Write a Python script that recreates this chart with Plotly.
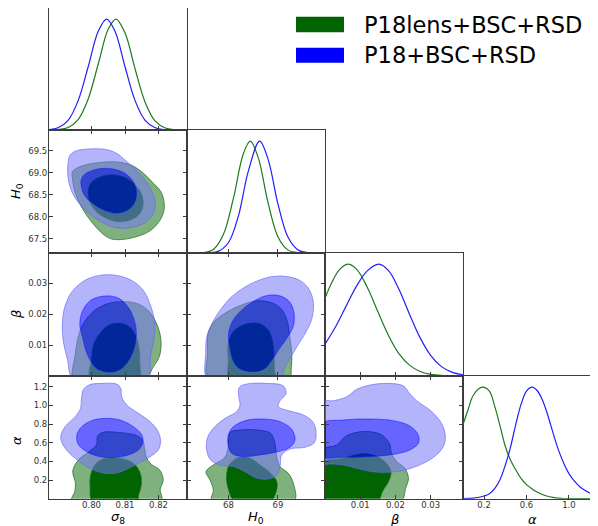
import plotly.graph_objects as go

# page window is 598x526; the plot div sits 8px in from the page's top-left corner
PAGE_W, PAGE_H = 598, 526
OFF = 8
W, H = PAGE_W - OFF, PAGE_H - OFF

# ---------------- labels / ticks ----------------
SERIES_NAMES = ["P18lens+BSC+RSD", "P18+BSC+RSD"]
PARAM_TITLES = ["<i>σ</i><sub>8</sub>", "<i>H</i><sub>0</sub>", "<i>β</i>", "<i>α</i>"]
X_TICKVALS = [[0.80, 0.81, 0.82], [68, 69], [0.01, 0.02, 0.03], [0.2, 0.6, 1.0]]
X_TICKTEXT = [["0.80", "0.81", "0.82"], ["68", "69"], ["0.01", "0.02", "0.03"], ["0.2", "0.6", "1.0"]]
Y_TICKVALS = [None, [67.5, 68.0, 68.5, 69.0, 69.5], [0.01, 0.02, 0.03], [0.2, 0.4, 0.6, 0.8, 1.0, 1.2]]
Y_TICKTEXT = [None, ["67.5", "68.0", "68.5", "69.0", "69.5"], ["0.01", "0.02", "0.03"],
              ["0.2", "0.4", "0.6", "0.8", "1.0", "1.2"]]
X_RANGES = [[0.7873, 0.8285], [67.16, 69.953], [0.0, 0.0392], [0.0015, 1.274]]
Y_RANGES = [None, [67.175, 69.97], [0.0, 0.0397], [0.0, 1.315]]

# ---------------- 1D marginals (relative density, peak = 1) ----------------
S8_GREEN_X = [0.7873, 0.790, 0.793, 0.796, 0.799, 0.802, 0.805, 0.8073, 0.810, 0.813, 0.816, 0.819, 0.822, 0.825, 0.8285]
S8_GREEN_P = [0.0005, 0.004, 0.023, 0.094, 0.28, 0.595, 0.91, 1.0, 0.874, 0.55, 0.25, 0.08, 0.018, 0.003, 0.0]
S8_BLUE_X = [0.7873, 0.790, 0.793, 0.796, 0.799, 0.802, 0.8045, 0.807, 0.810, 0.813, 0.816, 0.819, 0.822, 0.8285]
S8_BLUE_P = [0.004, 0.02, 0.087, 0.265, 0.57, 0.89, 1.0, 0.89, 0.57, 0.265, 0.087, 0.02, 0.003, 0.0]

H0_GREEN_X = [67.16, 67.5, 67.7, 67.9, 68.1, 68.3, 68.44, 68.6, 68.8, 69.0, 69.2, 69.4, 69.6, 69.95]
H0_GREEN_P = [0.0, 0.004, 0.034, 0.17, 0.49, 0.887, 1.0, 0.855, 0.45, 0.146, 0.028, 0.003, 0.0, 0.0]
H0_BLUE_X = [67.16, 67.6, 67.8, 68.0, 68.2, 68.4, 68.63, 68.8, 69.0, 69.2, 69.4, 69.6, 69.95]
H0_BLUE_P = [0.0, 0.002, 0.017, 0.094, 0.33, 0.73, 1.0, 0.84, 0.44, 0.145, 0.03, 0.004, 0.0]

BETA_GREEN_X = [0.0, 0.002, 0.004, 0.0065, 0.009, 0.012, 0.015, 0.018, 0.021, 0.024, 0.027, 0.030, 0.033, 0.036, 0.0392]
BETA_GREEN_P = [0.695, 0.84, 0.947, 1.0, 0.953, 0.794, 0.576, 0.365, 0.20, 0.097, 0.04, 0.015, 0.005, 0.002, 0.0]
BETA_BLUE_X = [0.0, 0.003, 0.006, 0.009, 0.012, 0.0153, 0.018, 0.021, 0.024, 0.027, 0.030, 0.033, 0.036, 0.0392]
BETA_BLUE_P = [0.284, 0.44, 0.625, 0.806, 0.94, 1.0, 0.944, 0.776, 0.553, 0.343, 0.185, 0.086, 0.035, 0.011]

ALPHA_GREEN_X = [0.0, 0.05, 0.1, 0.181, 0.25, 0.3, 0.35, 0.4, 0.45, 0.5, 0.55, 0.6, 0.65, 0.7, 0.75, 0.8, 0.85, 0.9,
                 0.95, 1.0, 1.1, 1.274]
ALPHA_GREEN_P = [0.66, 0.80, 0.93, 1.0, 0.965, 0.83, 0.655, 0.47, 0.345, 0.257, 0.18, 0.126, 0.09, 0.06, 0.038, 0.022,
                 0.012, 0.005, 0.001, 0.0, 0.0, 0.0]
ALPHA_BLUE_X = [0.0, 0.1, 0.2, 0.25, 0.3, 0.35, 0.4, 0.45, 0.5, 0.55, 0.6, 0.654, 0.7, 0.75, 0.8, 0.85, 0.9, 0.95,
                1.0, 1.05, 1.1, 1.15, 1.2, 1.274]
ALPHA_BLUE_P = [0.0, 0.005, 0.024, 0.045, 0.09, 0.17, 0.30, 0.465, 0.67, 0.85, 0.965, 1.0, 0.97, 0.885, 0.75, 0.59,
                0.44, 0.32, 0.225, 0.16, 0.11, 0.075, 0.05, 0.024]

# ---------------- 2D contours (68% inner / 95% outer), (x, y) in data units ----------------
# sigma8 - H0
S8H0_GREEN_OUT = [(0.7943, 69.023), (0.7971, 69.152), (0.8020, 69.228), (0.8075, 69.243), (0.8120, 69.167),
                  (0.8155, 68.985), (0.8185, 68.758), (0.8207, 68.569), (0.8217, 68.304), (0.8214, 68.077),
                  (0.8199, 67.86), (0.8175, 67.68), (0.8140, 67.56), (0.8095, 67.485), (0.8060, 67.493),
                  (0.8035, 67.599), (0.8008, 67.811), (0.7983, 68.061), (0.7963, 68.319), (0.7949, 68.607),
                  (0.7943, 68.872)]
S8H0_GREEN_IN = [(0.7991, 68.607), (0.8002, 68.796), (0.8030, 68.910), (0.8065, 68.948), (0.8100, 68.887),
                 (0.8130, 68.720), (0.8150, 68.493), (0.8153, 68.228), (0.8140, 68.038), (0.8115, 67.925),
                 (0.8080, 67.887), (0.8045, 67.963), (0.8015, 68.114), (0.7995, 68.342)]
S8H0_BLUE_OUT = [(0.7936, 69.402), (0.7956, 69.501), (0.7991, 69.538), (0.8040, 69.531), (0.8075, 69.440),
                 (0.8102, 69.273), (0.8128, 69.099), (0.8155, 68.872), (0.8178, 68.607), (0.8190, 68.342),
                 (0.8187, 68.114), (0.8170, 67.925), (0.8140, 67.796), (0.8100, 67.736), (0.8060, 67.773),
                 (0.8020, 67.925), (0.7986, 68.114), (0.7959, 68.342), (0.7941, 68.569), (0.7931, 68.834),
                 (0.7929, 69.137)]
S8H0_BLUE_IN = [(0.7968, 68.796), (0.7977, 68.948), (0.8000, 69.046), (0.8035, 69.099), (0.8070, 69.076),
                (0.8100, 68.985), (0.8125, 68.796), (0.8135, 68.569), (0.8130, 68.342), (0.8112, 68.167),
                (0.8080, 68.077), (0.8040, 68.137), (0.8005, 68.288), (0.7978, 68.493)]

# sigma8 - beta
S8B_GREEN_OUT = [(0.7948, -0.0015), (0.7951, 0.0065), (0.7961, 0.0129), (0.7977, 0.0172), (0.8007, 0.0210),
                 (0.8047, 0.0233), (0.8092, 0.0240), (0.8132, 0.0235), (0.8166, 0.0215), (0.8193, 0.0172),
                 (0.8207, 0.0118), (0.8203, 0.0065), (0.8183, 0.0027), (0.8157, -0.0015)]
S8B_GREEN_IN = [(0.7998, -0.0015), (0.8000, 0.0054), (0.8007, 0.0102), (0.8027, 0.0140), (0.8052, 0.0164),
                (0.8082, 0.0170), (0.8112, 0.0159), (0.8132, 0.0129), (0.8142, 0.0086), (0.8144, 0.0043),
                (0.8140, -0.0015)]
S8B_BLUE_OUT = [(0.7948, -0.0015), (0.7928, 0.0054), (0.7915, 0.0118), (0.7913, 0.0172), (0.7921, 0.0226),
                (0.7943, 0.0274), (0.7982, 0.0310), (0.8032, 0.0326), (0.8072, 0.0325), (0.8117, 0.0310),
                (0.8152, 0.0280), (0.8173, 0.0237), (0.8189, 0.0172), (0.8186, 0.0118), (0.8176, 0.0065),
                (0.8164, -0.0015)]
S8B_BLUE_IN = [(0.7973, 0.0124), (0.7965, 0.0167), (0.7973, 0.0210), (0.7997, 0.0244), (0.8037, 0.0258),
               (0.8077, 0.0253), (0.8107, 0.0226), (0.8127, 0.0183), (0.8134, 0.0135), (0.8127, 0.0086),
               (0.8107, 0.0043), (0.8077, 0.0016), (0.8042, 0.0013), (0.8012, 0.0027), (0.7987, 0.0070)]

# H0 - beta
H0B_GREEN_OUT = [(67.605, -0.0015), (67.578, 0.0075), (67.592, 0.0140), (67.727, 0.0178), (67.976, 0.0207),
                 (68.246, 0.0228), (68.550, 0.0242), (68.820, 0.0239), (69.043, 0.0221), (69.178, 0.0183),
                 (69.238, 0.0129), (69.279, 0.0075), (69.272, 0.0027), (69.211, -0.0015)]
H0B_GREEN_IN = [(68.044, -0.0015), (67.997, 0.0054), (67.997, 0.0108), (68.111, 0.0145), (68.348, 0.0167),
                (68.618, 0.0169), (68.806, 0.0148), (68.887, 0.0113), (68.921, 0.0065), (68.928, 0.0022),
                (68.928, -0.0015)]
H0B_BLUE_OUT = [(67.592, -0.0015), (67.538, 0.0075), (67.565, 0.0129), (67.673, 0.0172), (67.842, 0.0215),
                (68.044, 0.0253), (68.280, 0.0282), (68.584, 0.0307), (68.887, 0.0321), (69.191, 0.0321),
                (69.461, 0.0307), (69.630, 0.0280), (69.717, 0.0237), (69.684, 0.0183), (69.562, 0.0140),
                (69.393, 0.0097), (69.238, 0.0054), (69.124, 0.0022), (69.056, -0.0015)]
H0B_BLUE_IN = [(68.044, 0.0075), (67.997, 0.0129), (68.064, 0.0172), (68.246, 0.0210), (68.516, 0.0242),
               (68.786, 0.0260), (69.056, 0.0258), (69.238, 0.0239), (69.326, 0.0204), (69.313, 0.0161),
               (69.191, 0.0124), (69.022, 0.0086), (68.874, 0.0049), (68.719, 0.0022), (68.483, 0.0013),
               (68.213, 0.0024), (68.091, 0.0049)]

# sigma8 - alpha
S8A_GREEN_OUT = [(0.7941, -0.03), (0.7950, 0.08), (0.7952, 0.165), (0.7944, 0.30), (0.7962, 0.42), (0.7995, 0.51),
                 (0.8015, 0.58), (0.8018, 0.67), (0.8035, 0.712), (0.8085, 0.708), (0.8132, 0.68), (0.8152, 0.63),
                 (0.8158, 0.55), (0.8163, 0.45), (0.8178, 0.37), (0.8203, 0.31), (0.8214, 0.20), (0.8205, 0.10),
                 (0.8208, -0.03)]
S8A_GREEN_IN = [(0.8004, -0.03), (0.7996, 0.129), (0.7998, 0.254), (0.8014, 0.379), (0.8045, 0.436),
                (0.8090, 0.429), (0.8125, 0.379), (0.8145, 0.272), (0.8148, 0.147), (0.8140, 0.040),
                (0.8135, -0.03)]
S8A_BLUE_OUT = [(0.7976, 1.172), (0.7995, 1.222), (0.8035, 1.236), (0.8075, 1.229), (0.8087, 1.183),
                (0.8090, 1.093), (0.8105, 1.004), (0.8140, 0.915), (0.8175, 0.825), (0.8199, 0.718),
                (0.8206, 0.611), (0.8199, 0.522), (0.8175, 0.450), (0.8140, 0.379), (0.8105, 0.315),
                (0.8070, 0.272), (0.8030, 0.279), (0.7990, 0.336), (0.7951, 0.433), (0.7918, 0.558),
                (0.7908, 0.665), (0.7921, 0.772), (0.7951, 0.879), (0.7967, 0.968), (0.7970, 1.075)]
S8A_BLUE_IN = [(0.7956, 0.683), (0.7971, 0.772), (0.8000, 0.836), (0.8040, 0.861), (0.8085, 0.843),
               (0.8125, 0.772), (0.8150, 0.683), (0.8153, 0.593), (0.8140, 0.522), (0.8110, 0.468),
               (0.8070, 0.443), (0.8025, 0.450), (0.7985, 0.504), (0.7960, 0.586)]

# H0 - alpha
H0A_GREEN_OUT = [(67.659, -0.03), (67.693, 0.094), (67.625, 0.201), (67.544, 0.290), (67.693, 0.361),
                 (67.929, 0.444), (67.996, 0.558), (68.030, 0.708), (68.233, 0.736), (68.637, 0.733),
                 (68.853, 0.701), (68.941, 0.594), (68.975, 0.451), (69.042, 0.344), (69.211, 0.272),
                 (69.312, 0.165), (69.326, -0.03)]
H0A_GREEN_IN = [(68.131, -0.03), (67.996, 0.111), (67.963, 0.236), (68.017, 0.361), (68.199, 0.440),
                (68.435, 0.433), (68.637, 0.361), (68.840, 0.279), (68.975, 0.183), (68.961, 0.076),
                (68.840, -0.03)]
H0A_BLUE_OUT = [(68.219, 1.194), (68.368, 1.229), (68.772, 1.236), (69.110, 1.208), (69.164, 1.129),
                (69.029, 1.040), (69.009, 0.986), (69.211, 0.944), (69.515, 0.897), (69.704, 0.826),
                (69.771, 0.719), (69.737, 0.601), (69.548, 0.551), (69.245, 0.533), (69.076, 0.469),
                (69.042, 0.344), (68.961, 0.244), (68.739, 0.208), (68.536, 0.229), (68.334, 0.290),
                (68.098, 0.344), (67.828, 0.361), (67.639, 0.415), (67.558, 0.522), (67.571, 0.647),
                (67.693, 0.754), (67.929, 0.861), (68.165, 0.933), (68.233, 1.004), (68.206, 1.094)]
H0A_BLUE_IN = [(67.983, 0.629), (68.064, 0.754), (68.334, 0.836), (68.705, 0.854), (69.042, 0.826),
               (69.279, 0.744), (69.346, 0.629), (69.245, 0.551), (68.975, 0.501), (68.637, 0.469),
               (68.300, 0.451), (68.064, 0.486)]

# beta - alpha
BA_GREEN_OUT = [(-0.0015, 0.515), (0.0033, 0.575), (0.0057, 0.665), (0.0090, 0.711), (0.0128, 0.718),
                (0.0161, 0.683), (0.0183, 0.593), (0.0189, 0.486), (0.0204, 0.397), (0.0227, 0.325),
                (0.0237, 0.218), (0.0229, 0.111), (0.0215, -0.03), (-0.002, -0.03)]
BA_GREEN_IN = [(-0.0015, 0.372), (0.0052, 0.433), (0.0099, 0.479), (0.0137, 0.468), (0.0170, 0.397),
               (0.0187, 0.290), (0.0180, 0.183), (0.0164, 0.086), (0.0147, -0.03), (-0.002, -0.03)]
BA_BLUE_OUT = [(-0.0015, 1.040), (0.0024, 1.050), (0.0062, 1.093), (0.0090, 1.172), (0.0128, 1.218),
               (0.0180, 1.236), (0.0223, 1.208), (0.0240, 1.129), (0.0260, 1.050), (0.0298, 0.950),
               (0.0331, 0.808), (0.0342, 0.665), (0.0336, 0.558), (0.0313, 0.458), (0.0275, 0.372),
               (0.0227, 0.308), (0.0180, 0.283), (0.0133, 0.290), (0.0090, 0.325), (0.0052, 0.361),
               (0.0014, 0.372), (-0.0015, 0.372)]
BA_BLUE_IN = [(-0.0015, 0.800), (0.0052, 0.843), (0.0128, 0.854), (0.0194, 0.836), (0.0241, 0.779),
              (0.0265, 0.683), (0.0265, 0.593), (0.0241, 0.522), (0.0194, 0.475), (0.0128, 0.450),
              (0.0052, 0.443), (-0.0015, 0.458)]

# ---------------- styling ----------------
GREEN_LINE = "rgb(30,120,30)"
BLUE_LINE = "rgb(30,30,255)"
GREEN_OUT_FILL = "rgba(0,100,0,0.5)"
GREEN_IN_FILL = "rgb(0,100,0)"
BLUE_OUT_FILL = "rgba(118,118,245,0.55)"
BLUE_IN_FILL = "rgba(0,0,255,0.6)"
GREEN_EDGE = "rgb(45,115,45)"
BLUE_EDGE = "rgba(100,100,250,0.8)"

# panel edges in page pixels
COL_PX = [(49, 187), (187, 325), (325, 463), (463, 598)]
ROW_PX = [(7.3, 130), (130, 253), (253, 376), (376, 498.7)]


def fx(p):
    return (p - OFF) / W


def fy(p):
    return 1 - (p - OFF) / H


DIAG = {
    0: [(S8_GREEN_X, S8_GREEN_P, GREEN_LINE), (S8_BLUE_X, S8_BLUE_P, BLUE_LINE)],
    1: [(H0_GREEN_X, H0_GREEN_P, GREEN_LINE), (H0_BLUE_X, H0_BLUE_P, BLUE_LINE)],
    2: [(BETA_GREEN_X, BETA_GREEN_P, GREEN_LINE), (BETA_BLUE_X, BETA_BLUE_P, BLUE_LINE)],
    3: [(ALPHA_GREEN_X, ALPHA_GREEN_P, GREEN_LINE), (ALPHA_BLUE_X, ALPHA_BLUE_P, BLUE_LINE)],
}
CONTOURS = {
    (1, 0): (S8H0_GREEN_OUT, S8H0_GREEN_IN, S8H0_BLUE_OUT, S8H0_BLUE_IN),
    (2, 0): (S8B_GREEN_OUT, S8B_GREEN_IN, S8B_BLUE_OUT, S8B_BLUE_IN),
    (2, 1): (H0B_GREEN_OUT, H0B_GREEN_IN, H0B_BLUE_OUT, H0B_BLUE_IN),
    (3, 0): (S8A_GREEN_OUT, S8A_GREEN_IN, S8A_BLUE_OUT, S8A_BLUE_IN),
    (3, 1): (H0A_GREEN_OUT, H0A_GREEN_IN, H0A_BLUE_OUT, H0A_BLUE_IN),
    (3, 2): (BA_GREEN_OUT, BA_GREEN_IN, BA_BLUE_OUT, BA_BLUE_IN),
}


def signed_area(pts):
    s = 0.0
    for (x1, y1), (x2, y2) in zip(pts, pts[1:] + pts[:1]):
        s += x1 * y2 - x2 * y1
    return s


def closed(pts):
    return list(pts) + [pts[0]]


def ring_xy(outer, inner):
    inn = list(inner)
    if (signed_area(outer) > 0) == (signed_area(inn) > 0):
        inn = inn[::-1]
    o = closed(outer)
    i = closed(inn)
    xs = [p[0] for p in o] + [None] + [p[0] for p in i]
    ys = [p[1] for p in o] + [None] + [p[1] for p in i]
    return xs, ys


fig = go.Figure()
layout = dict(width=W, height=H, margin=dict(l=0, r=0, t=0, b=0), paper_bgcolor="white",
              plot_bgcolor="white", showlegend=False)

FRAME = "#3c3c3c"
TICKFONT = dict(family="DejaVu Sans", size=8.5, color="#333333")

k = 0
for r in range(4):
    for c in range(r + 1):
        k += 1
        xa = "xaxis" if k == 1 else f"xaxis{k}"
        ya = "yaxis" if k == 1 else f"yaxis{k}"
        xr = "x" if k == 1 else f"x{k}"
        yr = "y" if k == 1 else f"y{k}"
        diag = (r == c)
        xdom = [max(fx(COL_PX[c][0]), 0.0), min(fx(COL_PX[c][1]), 1.0)]
        ydom = [max(fy(ROW_PX[r][1]), 0.0), min(fy(ROW_PX[r][0]), 1.0)]
        layout[xa] = dict(domain=xdom, range=X_RANGES[c], anchor=yr, showgrid=False, zeroline=False,
                          showline=True, linecolor=FRAME, linewidth=1.2,
                          mirror=True if diag else "ticks", ticks="inside", ticklen=4, tickwidth=1,
                          tickcolor=FRAME, tickvals=X_TICKVALS[c], ticktext=X_TICKTEXT[c],
                          showticklabels=(r == 3), tickfont=TICKFONT, ticklabelstandoff=-2)
        if diag:
            layout[ya] = dict(domain=ydom, range=[0, 1.1], anchor=xr, showgrid=False, zeroline=False,
                              showline=True, linecolor=FRAME, linewidth=1.2, mirror=(c != 3),
                              ticks="", showticklabels=False)
            for xs, ps, col in DIAG[c]:
                fig.add_trace(go.Scatter(x=xs, y=ps, mode="lines", xaxis=xr, yaxis=yr, hoverinfo="skip",
                                         line=dict(color=col, width=1.2, shape="spline", smoothing=1.0)))
        else:
            layout[ya] = dict(domain=ydom, range=Y_RANGES[r], anchor=xr, showgrid=False, zeroline=False,
                              showline=True, linecolor=FRAME, linewidth=1.2, mirror="ticks",
                              ticks="inside", ticklen=4, tickwidth=1, tickcolor=FRAME,
                              tickvals=Y_TICKVALS[r], ticktext=Y_TICKTEXT[r],
                              showticklabels=(c == 0), tickfont=TICKFONT, ticklabelstandoff=-1)
            g_out, g_in, b_out, b_in = CONTOURS[(r, c)]
            for out_, in_, ofill, ifill, edge in ((g_out, g_in, GREEN_OUT_FILL, GREEN_IN_FILL, GREEN_EDGE),
                                                  (b_out, b_in, BLUE_OUT_FILL, BLUE_IN_FILL, BLUE_EDGE)):
                rx, ry = ring_xy(out_, in_)
                fig.add_trace(go.Scatter(x=rx, y=ry, mode="lines", fill="toself", fillcolor=ofill,
                                         xaxis=xr, yaxis=yr, hoverinfo="skip",
                                         line=dict(color=edge, width=0.8, shape="spline", smoothing=1.0)))
                ci = closed(in_)
                fig.add_trace(go.Scatter(x=[p[0] for p in ci], y=[p[1] for p in ci], mode="lines",
                                         fill="toself", fillcolor=ifill, xaxis=xr, yaxis=yr,
                                         hoverinfo="skip",
                                         line=dict(color=ifill, width=0.4, shape="spline", smoothing=1.0)))

annotations = []
TITLE_FONT = dict(family="DejaVu Sans", size=13, color="black")
for c, (cx, cy) in enumerate([(118, 517.5), (256, 517.5), (394, 519), (532, 519)]):
    annotations.append(dict(text=PARAM_TITLES[c], x=fx(cx), y=fy(cy), xref="paper", yref="paper",
                            xanchor="center", yanchor="middle", showarrow=False, font=TITLE_FONT))
for r, cy in zip([1, 2, 3], [191, 315, 441]):
    annotations.append(dict(text=PARAM_TITLES[r], x=fx(16), y=fy(cy), xref="paper", yref="paper",
                            xanchor="center", yanchor="middle", showarrow=False, textangle=-90,
                            font=TITLE_FONT))

# legend (patches + labels)
LEG_COLORS = ["rgb(0,100,0)", "rgb(0,0,255)"]
LEG_ROWS = [(16.7, 32.3, 25), (47.7, 62.7, 55)]
shapes = []
for name, colr, (t, b, cy) in zip(SERIES_NAMES, LEG_COLORS, LEG_ROWS):
    shapes.append(dict(type="rect", xref="paper", yref="paper", x0=fx(296), x1=fx(344),
                       y0=fy(b), y1=fy(t), fillcolor=colr, line=dict(width=0)))
    annotations.append(dict(text=name, x=fx(362), y=fy(cy), xref="paper", yref="paper",
                            xanchor="left", yanchor="middle", showarrow=False,
                            font=dict(family="DejaVu Sans", size=22.5, color="black")))

layout["annotations"] = annotations
layout["shapes"] = shapes
fig.update_layout(**layout)
fig.write_html("out.html")
